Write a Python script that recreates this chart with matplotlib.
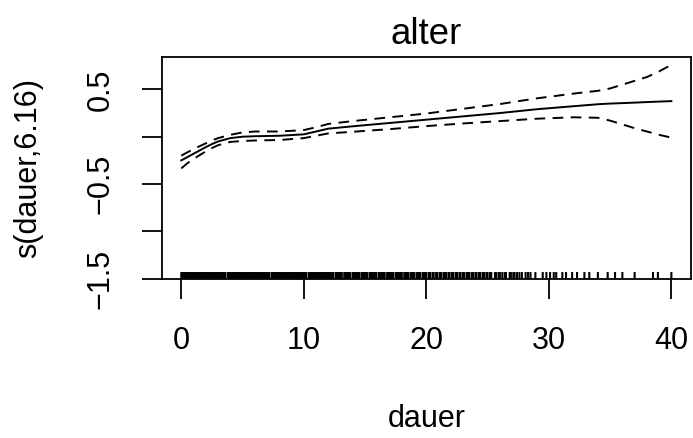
import numpy as np
import matplotlib
matplotlib.use("Agg")
import matplotlib.pyplot as plt

# smooth term s(dauer)
dauer = [0, 0.5, 1, 1.5, 2, 2.5, 3, 4, 5, 6, 8, 10, 11, 12, 14, 17, 20,
         23, 26, 29, 32, 34, 35, 36, 37, 38, 39, 40]
fit = [-0.25, -0.215, -0.18, -0.145, -0.11, -0.078, -0.05, -0.015, 0.0, 0.005,
       0.01, 0.025, 0.055, 0.085, 0.11, 0.145, 0.18, 0.215, 0.25, 0.29, 0.322,
       0.343, 0.35, 0.355, 0.36, 0.366, 0.371, 0.376]
upper = [-0.20, -0.165, -0.13, -0.10, -0.07, -0.04, -0.015, 0.02, 0.045, 0.055,
         0.055, 0.07, 0.10, 0.135, 0.165, 0.205, 0.245, 0.295, 0.345, 0.405,
         0.455, 0.485, 0.51, 0.55, 0.59, 0.63, 0.69, 0.76]
lower = [-0.335, -0.28, -0.235, -0.195, -0.155, -0.12, -0.09, -0.055, -0.045,
         -0.04, -0.035, -0.015, 0.01, 0.035, 0.052, 0.08, 0.112, 0.14, 0.165,
         0.19, 0.205, 0.2, 0.17, 0.13, 0.09, 0.055, 0.02, -0.01]

# rug of observed dauer values
rug = [0.0, 0.1, 0.2, 0.3, 0.4, 0.5, 0.6, 0.7, 0.8, 0.9, 1.0, 1.1, 1.2, 1.3,
       1.4, 1.5, 1.6, 1.7, 1.8, 1.9, 2.0, 2.1, 2.2, 2.3, 2.4, 2.5, 2.6, 2.7,
       2.8, 2.9, 3.0, 3.1, 3.2, 3.3, 3.4, 3.5, 3.6, 3.8, 3.9, 4.0, 4.1, 4.2,
       4.3, 4.4, 4.5, 4.6, 4.7, 4.8, 4.9, 5.0, 5.1, 5.2, 5.3, 5.4, 5.5, 5.6,
       5.7, 5.8, 5.9, 6.0, 6.1, 6.2, 6.3, 6.4, 6.5, 6.6, 6.7, 6.8, 6.9, 7.0,
       7.1, 7.2, 7.4, 7.5, 7.6, 7.7, 7.8, 7.9, 8.0, 8.1, 8.2, 8.3, 8.4, 8.5,
       8.6, 8.7, 8.8, 8.9, 9.0, 9.1, 9.2, 9.3, 9.4, 9.5, 9.6, 9.7, 9.8, 9.9,
       10.0, 10.1, 10.2, 10.4, 10.5, 10.6, 10.7, 10.8, 10.9, 11.0, 11.1, 11.2,
       11.3, 11.4, 11.5, 11.6, 11.7, 11.8, 11.9, 12.0,
       12.1, 12.2, 12.3, 12.4, 12.6, 12.7, 12.8, 12.9, 13.0, 13.1, 13.3, 13.4,
       13.5, 13.6, 13.7, 13.8, 14.0, 14.1, 14.2, 14.3, 14.4, 14.5, 14.7, 14.8,
       14.9, 15.0, 15.1, 15.2, 15.4, 15.5, 15.6, 15.7, 15.8, 15.9, 16.1, 16.2,
       16.3, 16.4, 16.5, 16.6, 16.8, 16.9, 17.0, 17.1, 17.2, 17.3, 17.5, 17.6,
       17.7, 17.8, 17.9, 18.0, 18.2, 18.3, 18.4, 18.5, 18.7, 18.8, 18.9, 19.0,
       19.2, 19.3, 19.4, 19.5, 19.7, 19.8, 19.9, 20.0, 20.2, 20.3, 20.5, 20.6,
       20.8, 20.9, 21.1, 21.2, 21.4, 21.5, 21.6, 21.8, 21.9, 22.1, 22.2, 22.4,
       22.5, 22.7, 22.8, 23.0, 23.1, 23.3, 23.4, 23.5, 23.7, 23.8, 24.0, 24.1,
       24.3, 24.4, 24.6, 24.7, 24.9, 25.0, 25.2, 25.3, 25.6, 25.7, 25.9, 26.0,
       26.2, 26.4, 26.5, 26.8, 26.9, 27.1, 27.2, 27.4, 27.6, 27.8, 28.1, 28.3,
       28.5, 28.9, 29.5, 29.8, 30.1, 30.4, 30.6, 31.1, 31.4, 31.9,
       32.3, 32.9, 33.3, 34.0, 34.8, 35.4, 36.0, 37.0, 38.5, 38.9, 40.0]

xticks = [0, 10, 20, 30, 40]
yticks = [-1.5, -1.0, -0.5, 0.0, 0.5]
ytick_labels = ["\u22121.5", "", "\u22120.5", "", "0.5"]

plt.rcParams["font.family"] = ["Liberation Sans", "DejaVu Sans"]
plt.rcParams["font.size"] = 22

fig = plt.figure(figsize=(6.93, 4.38), dpi=100)
ax = fig.add_axes([0.2333, 0.3637, 0.7638, 0.5068])

lw = 1.4
dash = (0, (5.5, 3.8))
ax.plot(dauer, fit, color="black", linewidth=lw)
ax.plot(dauer, upper, color="black", linewidth=lw, linestyle=dash)
ax.plot(dauer, lower, color="black", linewidth=lw, linestyle=dash)
# rug along the bottom
rl = ax.vlines(rug, 0, 0.03, transform=ax.get_xaxis_transform(),
               color="black", linewidth=1.5)
rl.set_snap(False)

ax.set_xlim(-1.6, 41.6)
ax.set_ylim(-1.5, 0.845)
ax.set_xticks(xticks)
ax.set_yticks(yticks)
ax.set_yticklabels(ytick_labels)
ax.tick_params(axis="both", direction="out", length=14.4, width=1.3, color="black")
ax.tick_params(axis="x", pad=20)
ax.tick_params(axis="y", pad=19, labelrotation=90)
for lab in ax.get_yticklabels():
    lab.set_verticalalignment("center")

for s in ax.spines.values():
    s.set_linewidth(1.3)
    s.set_color("black")

ax.set_title("alter", pad=8.9)
ax.set_xlabel("dauer", labelpad=34)
ax.set_ylabel("s(dauer,6.16)", labelpad=30)

fig.savefig("out.png", dpi=100)
